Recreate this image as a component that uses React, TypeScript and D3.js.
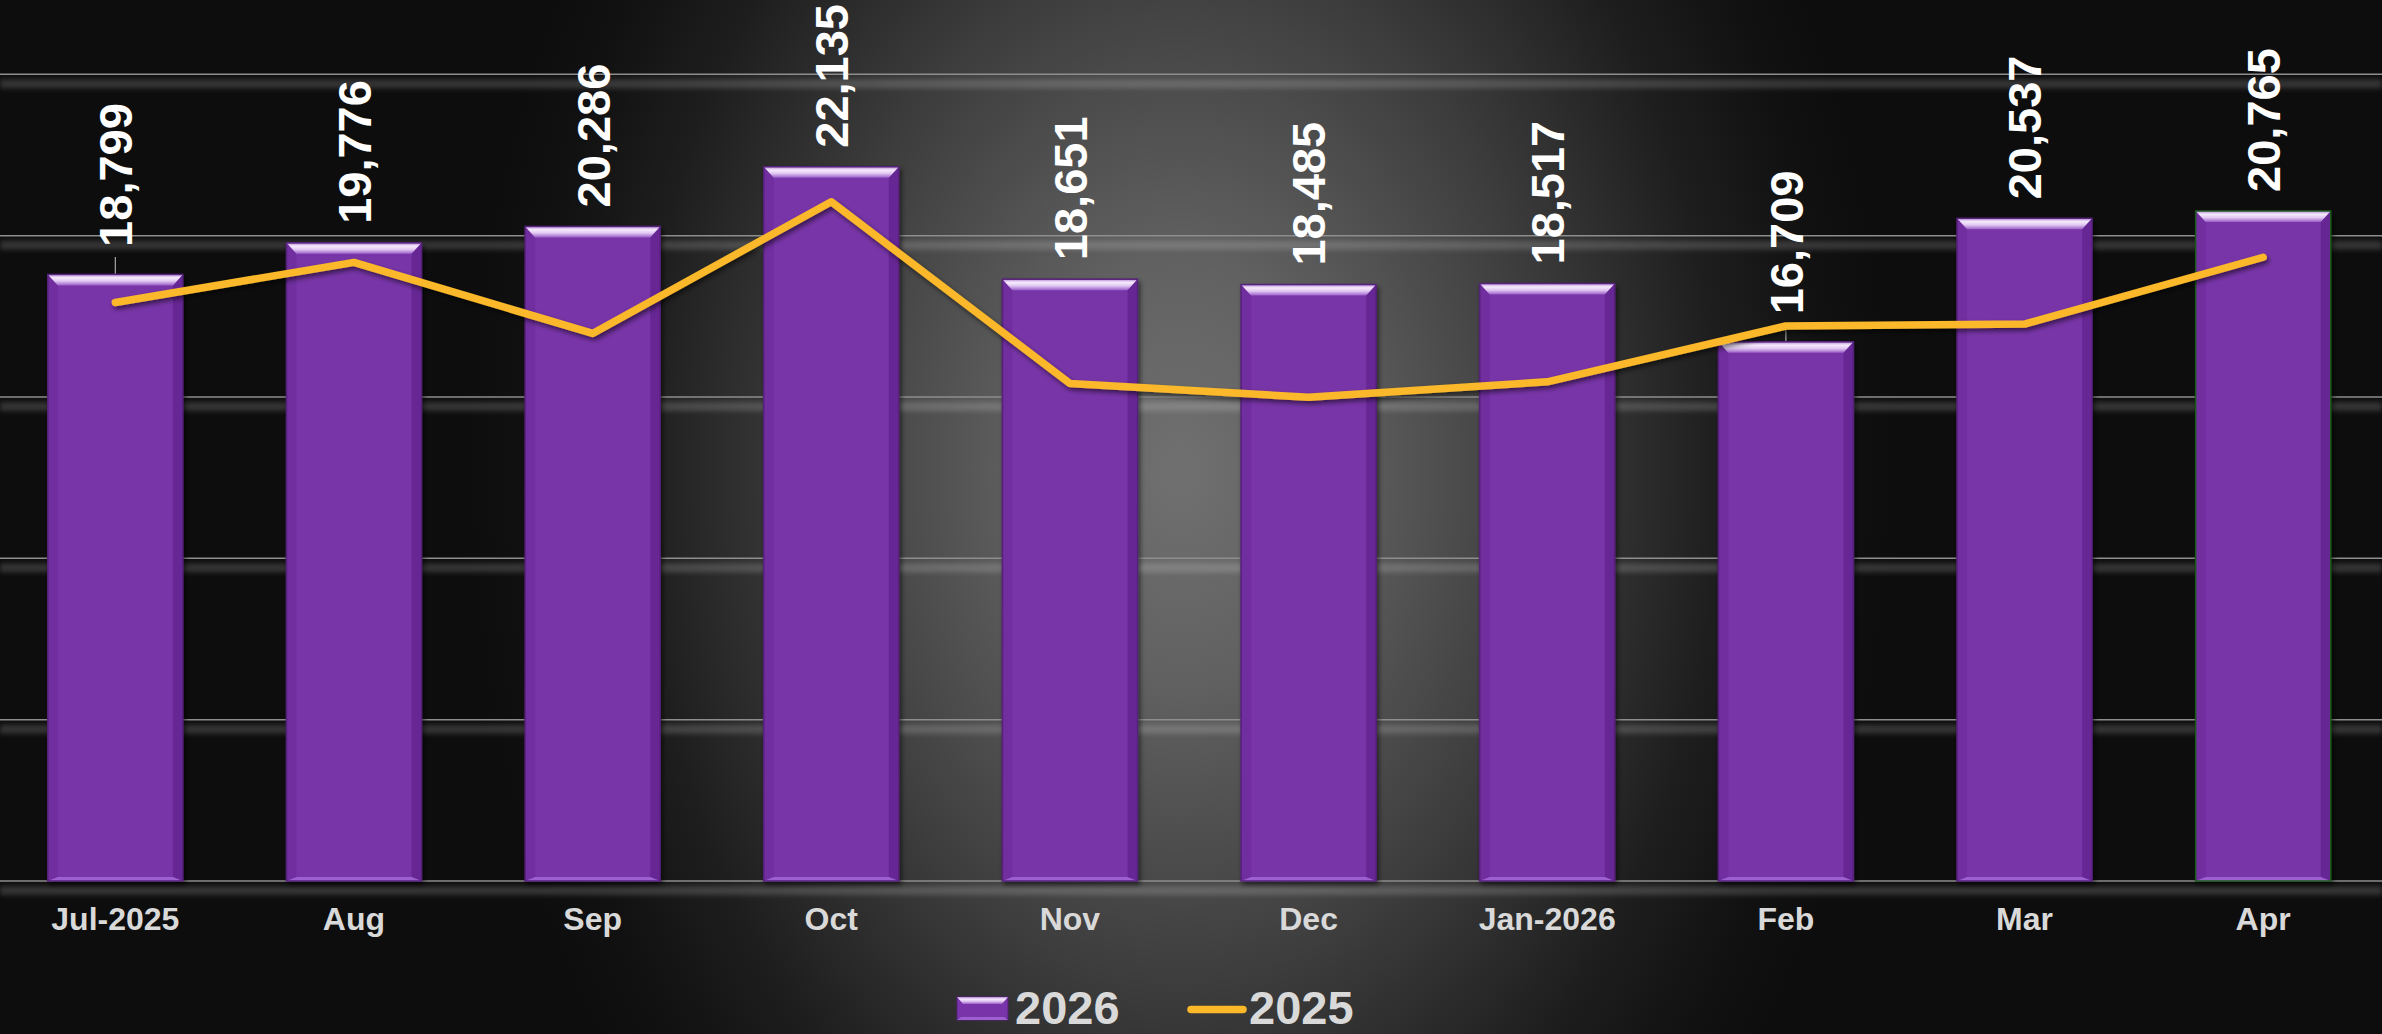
import React from 'react';
import * as d3 from 'd3';

const categories = ['Jul-2025', 'Aug', 'Sep', 'Oct', 'Nov', 'Dec', 'Jan-2026', 'Feb', 'Mar', 'Apr'];
const values2026 = [18799, 19776, 20286, 22135, 18651, 18485, 18517, 16709, 20537, 20765];
const values2025 = [17930, 19170, 16970, 21050, 15420, 14990, 15470, 17200, 17260, 19330];
const yTicks = [0, 5000, 10000, 15000, 20000, 25000];
const seriesNames = ['2026', '2025'];

const W = 2382;
const H = 1034;
const FONT = '"Liberation Sans", Arial, Helvetica, sans-serif';
const BAR_COLOR = '#7834A8';
const LINE_COLOR = '#FBB829';
const LABEL_GAP = 19;
const LIFTED = new Set(['Jul-2025', 'Feb']);
const LIFT = 8.5;

function BeveledBar({ x0, top, w, bottom, stroke }: { x0: number; top: number; w: number; bottom: number; stroke: string }) {
  const x1 = x0 + w;
  const b = Math.min(10, w / 4);
  const bh = Math.min(11, (bottom - top) / 3);
  const bb = 4;
  return (
    <g>
      <rect x={x0} y={top} width={w} height={bottom - top} fill={BAR_COLOR} />
      <polygon points={`${x0},${top} ${x0 + b},${top + bh} ${x0 + b},${bottom - bb} ${x0},${bottom}`} fill="#5f2290" opacity={0.35} />
      <polygon points={`${x1},${top} ${x1 - b},${top + bh} ${x1 - b},${bottom - bb} ${x1},${bottom}`} fill="#4f1a7c" opacity={0.45} />
      <polygon points={`${x0},${bottom} ${x0 + b},${bottom - bb} ${x1 - b},${bottom - bb} ${x1},${bottom}`} fill="#9c60cf" />
      <polygon points={`${x0},${top} ${x1},${top} ${x1 - b},${top + bh} ${x0 + b},${top + bh}`} fill="url(#bevelTop)" />
      <rect x={x0} y={top} width={w} height={bottom - top} fill="none" stroke={stroke} strokeWidth={1.5} />
    </g>
  );
}

export default function App() {
  const x = d3
    .scaleBand<string>()
    .domain(categories)
    .range([-4, 2382.5])
    .paddingInner(0.434)
    .paddingOuter(0.217);
  const y = d3.scaleLinear().domain([0, 25000]).range([881, 74.3]);
  const bw = x.bandwidth();
  const cx = (c: string) => (x(c) as number) + bw / 2;

  const linePath = d3
    .line<number>()
    .x((_, i) => cx(categories[i]))
    .y((d) => y(d))(values2025) as string;

  return (
    <svg
      width={W}
      height={H}
      viewBox={`0 0 ${W} ${H}`}
      style={{ position: 'absolute', left: 0, top: 0, display: 'block' }}
      fontFamily={FONT}
    >
      <defs>
        <radialGradient
          id="bg"
          gradientUnits="userSpaceOnUse"
          cx={1180}
          cy={470}
          r={720}
          gradientTransform="translate(1180 470) scale(1 1.4) translate(-1180 -470)"
        >
          <stop offset="0" stopColor="#707070" />
          <stop offset="0.2" stopColor="#626262" />
          <stop offset="0.5" stopColor="#3e3e3e" />
          <stop offset="0.75" stopColor="#1e1e1e" />
          <stop offset="0.9" stopColor="#111111" />
          <stop offset="1" stopColor="#0d0d0d" />
        </radialGradient>
        <linearGradient id="bevelTop" x1="0" y1="0" x2="0" y2="1">
          <stop offset="0" stopColor="#b488d6" />
          <stop offset="0.3" stopColor="#f6eafc" />
          <stop offset="0.6" stopColor="#e2c8f2" />
          <stop offset="1" stopColor="#9a5fc8" />
        </linearGradient>
        <filter id="blur3" x="-5%" y="-100%" width="110%" height="300%">
          <feGaussianBlur stdDeviation="2.5" />
        </filter>
        <filter id="shadow" x="-10%" y="-10%" width="120%" height="130%">
          <feDropShadow dx="2" dy="3" stdDeviation="2.5" floodColor="#000" floodOpacity="0.55" />
        </filter>
      </defs>

      <rect x={0} y={0} width={W} height={H} fill="#0d0d0d" />
      <rect x={0} y={0} width={W} height={H} fill="url(#bg)" />

      {/* gridlines */}
      {yTicks.map((t) => (
        <g key={t}>
          <rect x={0} y={y(t) + 5} width={W} height={9} fill="#ffffff" opacity={0.16} filter="url(#blur3)" />
          <line x1={0} x2={W} y1={y(t)} y2={y(t)} stroke="#8e8e8e" strokeWidth={1.5} />
        </g>
      ))}

      {/* leader lines */}
      {categories.map((c, i) =>
        LIFTED.has(c) ? (
          <line
            key={'ld' + c}
            x1={cx(c)}
            x2={cx(c)}
            y1={y(values2026[i]) - LABEL_GAP - LIFT + 10}
            y2={y(values2026[i])}
            stroke="#a6a6a6"
            strokeWidth={1.2}
          />
        ) : null
      )}

      {/* bars */}
      <g filter="url(#shadow)">
        {categories.map((c, i) => (
          <BeveledBar
            key={c}
            x0={x(c) as number}
            top={y(values2026[i])}
            w={bw}
            bottom={y(0)}
            stroke={c === 'Apr' ? '#1d5a1d' : '#55207a'}
          />
        ))}
      </g>

      {/* line 2025 */}
      <path
        d={linePath}
        fill="none"
        stroke={LINE_COLOR}
        strokeWidth={7.5}
        strokeLinejoin="round"
        strokeLinecap="round"
        filter="url(#shadow)"
      />

      {/* value labels */}
      {categories.map((c, i) => {
        const ly = y(values2026[i]) - LABEL_GAP - (LIFTED.has(c) ? LIFT : 0);
        return (
          <text
            key={'v' + c}
            transform={`translate(${cx(c)},${ly}) rotate(-90)`}
            dy="0.36em"
            textAnchor="start"
            fontSize={47}
            fontWeight="bold"
            fill="#ffffff"
          >
            {d3.format(',')(values2026[i])}
          </text>
        );
      })}

      {/* x axis labels */}
      {categories.map((c) => (
        <text key={'x' + c} x={cx(c)} y={930} textAnchor="middle" fontSize={32} fontWeight="bold" fill="#d9d9d9">
          {c}
        </text>
      ))}

      {/* legend */}
      <g>
        <g>
          <rect x={957} y={997} width={51} height={23} fill={BAR_COLOR} stroke="#55207a" strokeWidth={1} />
          <polygon points={`957,997 1008,997 1002,1004 963,1004`} fill="url(#bevelTop)" />
          <polygon points={`957,1020 961,1017 1004,1017 1008,1020`} fill="#9c60cf" />
          <text x={1015} y={1024} fontSize={47} fontWeight="bold" fill="#d9d9d9">
            {seriesNames[0]}
          </text>
        </g>
        <g>
          <line x1={1191} x2={1243} y1={1009.5} y2={1009.5} stroke={LINE_COLOR} strokeWidth={7.5} strokeLinecap="round" />
          <text x={1249} y={1024} fontSize={47} fontWeight="bold" fill="#d9d9d9">
            {seriesNames[1]}
          </text>
        </g>
      </g>
    </svg>
  );
}
